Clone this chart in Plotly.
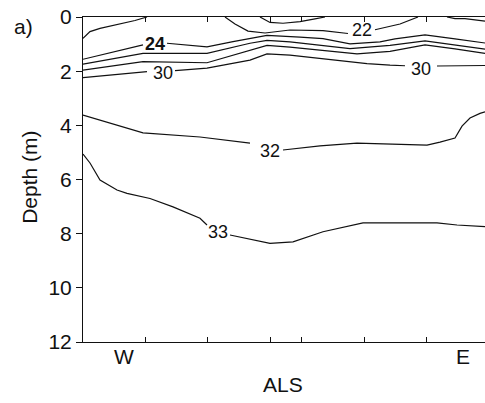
import plotly.graph_objects as go

# ---- data (distance along section, km; depth, m) ----
stations = [6.2, 12.4, 18.7, 21.8, 28.1, 34.3]
depth_ticks = [0, 2, 4, 6, 8, 10, 12]

x_20w = [0, 0.7, 1.7, 3.7, 5.2, 6.4]
z_20w = [0.79, 0.54, 0.42, 0.26, 0.13, 0.0]

x_20m = [17.7, 18.7, 20.0, 21.7, 23.2, 24.2]
z_20m = [0.0, 0.20, 0.23, 0.17, 0.07, 0.0]

x_20e = [36.4, 37.2, 38.2, 39.2, 40.2]
z_20e = [0.0, 0.06, 0.06, 0.10, 0.15]

x_22 = [14.2, 15.2, 16.5, 18.2, 20.7, 24.0, 26.5, None, 29.2, 31.7, 33.5]
z_22 = [0.0, 0.26, 0.52, 0.59, 0.48, 0.50, 0.61, None, 0.47, 0.26, 0.0]

x_24 = [0, 3.2, 6.0, None, 8.4, 11.0, 12.4, 15.0, 16.7, 18.4, 21.7, 24.0, 26.7, 29.7, 31.2, 34.2, 37.2, 40.2]
z_24 = [1.56, 1.29, 1.03, None, 0.97, 1.07, 1.10, 0.91, 0.79, 0.68, 0.74, 0.80, 0.99, 0.92, 0.81, 0.66, 0.81, 0.96]

x_26 = [0, 6.0, 12.4, 16.7, 18.4, 20.7, 26.7, 30.7, 34.2, 37.2, 40.2]
z_26 = [1.74, 1.34, 1.34, 0.97, 0.86, 0.92, 1.17, 1.05, 0.88, 1.03, 1.19]

x_28 = [0, 6.0, 12.4, 16.7, 18.4, 20.7, 27.4, 30.7, 34.2, 37.2, 40.2]
z_28 = [1.96, 1.65, 1.69, 1.24, 1.05, 1.11, 1.36, 1.27, 1.03, 1.18, 1.34]

x_30 = [0, 6.4, None, 9.2, 12.4, 16.7, 18.4, 20.7, 24.0, 28.4, 30.7, 32.2, None, 35.4, 37.7, 40.2]
z_30 = [2.24, 2.02, None, 1.98, 1.89, 1.59, 1.36, 1.41, 1.54, 1.72, 1.78, 1.80, None, 1.81, 1.81, 1.79]

x_32 = [0, 6.0, 11.7, 16.7, None, 20.0, 23.7, 27.4, 29.7, 34.4, 35.7, 37.2, 37.9, 38.7, 39.7, 40.2]
z_32 = [3.62, 4.28, 4.43, 4.66, None, 4.91, 4.76, 4.66, 4.69, 4.73, 4.62, 4.47, 4.03, 3.73, 3.56, 3.50]

x_33 = [0, 0.7, 1.7, 3.4, 4.4, 6.7, 9.0, 11.7, 12.4, None, 14.7, 16.7, 18.7, 21.0, 24.0, 28.0, 35.4, 37.4, 40.2]
z_33 = [5.06, 5.39, 6.02, 6.39, 6.51, 6.70, 7.01, 7.43, 7.68, None, 8.05, 8.21, 8.36, 8.30, 7.93, 7.60, 7.60, 7.68, 7.74]

label_text = ["22", "24", "30", "30", "32", "33"]
label_x = [27.9, 7.2, 8.0, 33.8, 18.7, 13.5]
label_z = [0.55, 1.07, 2.12, 1.99, 4.99, 7.98]

FONT = "Liberation Sans, Arial, sans-serif"
LINE = dict(color="#111111", width=1.2)

fig = go.Figure()
for xs, zs in [(x_20w, z_20w), (x_20m, z_20m), (x_20e, z_20e), (x_22, z_22),
               (x_24, z_24), (x_26, z_26), (x_28, z_28), (x_30, z_30),
               (x_32, z_32), (x_33, z_33)]:
    fig.add_trace(go.Scatter(x=xs, y=zs, mode="lines", line=LINE,
                             connectgaps=False, hoverinfo="skip", showlegend=False))

fig.add_trace(go.Scatter(
    x=label_x, y=label_z, mode="text",
    text=[("<b>%s</b>" % t) if t == "24" else t for t in label_text],
    textfont=dict(family=FONT, size=18, color="#111111"),
    textposition="middle center", showlegend=False, hoverinfo="skip"))

fig.update_layout(
    width=485, height=403,
    margin=dict(l=83, r=0, t=17, b=61),
    paper_bgcolor="white", plot_bgcolor="white",
    font=dict(family=FONT, size=21, color="#111111"),
    xaxis=dict(range=[0, 40.2], tickvals=stations, ticktext=[""] * len(stations),
               ticks="inside", ticklen=5, tickcolor="#111111",
               showline=True, linecolor="#111111", linewidth=1, mirror="ticks",
               showgrid=False, zeroline=False),
    yaxis=dict(range=[12, 0], tickvals=depth_ticks, ticks="outside", ticklen=6,
               tickcolor="#111111", showline=True, linecolor="#111111", linewidth=1,
               showgrid=False, zeroline=False, tickfont=dict(size=21)),
    yaxis2=dict(range=[12, 0], tickvals=depth_ticks, overlaying="y", side="right",
                ticks="inside", ticklen=4, tickcolor="#111111", showline=False,
                showticklabels=False, showgrid=False, zeroline=False),
    annotations=[
        dict(text="a)", xref="paper", yref="paper", x=-0.147, y=0.972,
             showarrow=False, xanchor="center", yanchor="middle", font=dict(size=21)),
        dict(text="Depth (m)", xref="paper", yref="paper", x=-0.132, y=0.508,
             textangle=-90, showarrow=False, xanchor="center", yanchor="middle",
             font=dict(size=21)),
        dict(text="W", xref="x", yref="paper", x=4.1, y=-0.046, showarrow=False,
             xanchor="center", yanchor="middle", font=dict(size=21)),
        dict(text="E", xref="x", yref="paper", x=38.0, y=-0.046, showarrow=False,
             xanchor="center", yanchor="middle", font=dict(size=21)),
        dict(text="ALS", xref="x", yref="paper", x=20.0, y=-0.132, showarrow=False,
             xanchor="center", yanchor="middle", font=dict(size=21)),
    ],
)
fig.write_html("out.html")
